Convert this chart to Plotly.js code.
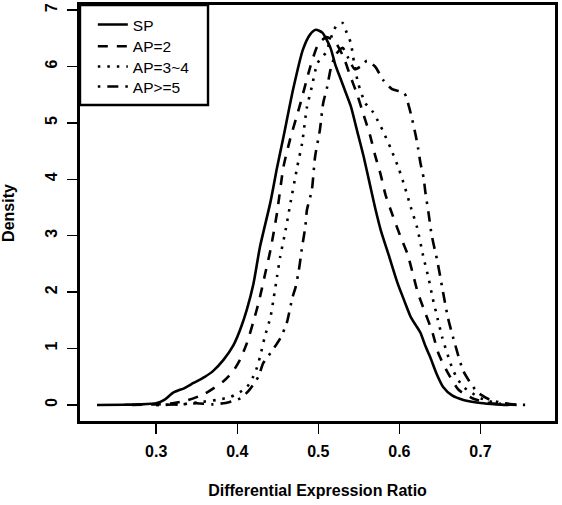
<!DOCTYPE html>
<html>
<head>
<meta charset="utf-8">
<script src="https://cdn.plot.ly/plotly-3.0.1.min.js"></script>
<style>html,body{margin:0;padding:0;background:#fff;}#chart{width:562px;height:505px;}</style>
</head>
<body>
<div id="chart"></div>
<script>
// ---- data ----
const seriesNames = ["SP", "AP=2", "AP=3~4", "AP>=5"];

const spX = [0.227,0.26,0.28,0.30,0.31,0.321,0.335,0.346,0.36,0.37,0.383,0.395,0.404,0.412,0.42,0.428,0.441,0.449,0.457,0.469,0.481,0.490,0.497,0.505,0.515,0.521,0.527,0.533,0.540,0.548,0.556,0.563,0.570,0.577,0.587,0.598,0.606,0.614,0.620,0.626,0.632,0.638,0.646,0.654,0.665,0.679,0.70,0.72,0.735];
const spY = [0,0.005,0.01,0.03,0.09,0.22,0.30,0.39,0.50,0.60,0.80,1.05,1.35,1.70,2.15,2.80,3.60,4.20,4.75,5.60,6.30,6.57,6.65,6.60,6.33,6.03,5.80,5.57,5.30,4.85,4.40,3.95,3.50,3.10,2.65,2.15,1.85,1.56,1.42,1.28,1.05,0.85,0.55,0.32,0.17,0.09,0.035,0.01,0];

const ap2X = [0.27,0.30,0.32,0.338,0.36,0.383,0.395,0.404,0.412,0.420,0.427,0.434,0.441,0.449,0.457,0.465,0.478,0.490,0.500,0.510,0.520,0.531,0.539,0.548,0.556,0.564,0.570,0.577,0.583,0.592,0.601,0.610,0.616,0.623,0.632,0.641,0.648,0.659,0.673,0.690,0.705,0.720,0.745];
const ap2Y = [0,0.01,0.03,0.08,0.20,0.42,0.60,0.82,1.10,1.48,1.85,2.30,2.75,3.40,4.22,4.70,5.35,5.99,6.40,6.52,6.45,6.17,5.85,5.50,5.14,4.77,4.43,4.08,3.72,3.35,3.00,2.68,2.36,1.98,1.63,1.28,0.92,0.59,0.27,0.12,0.05,0.02,0];

const ap34X = [0.30,0.33,0.354,0.375,0.391,0.40,0.412,0.422,0.428,0.434,0.441,0.445,0.449,0.453,0.459,0.465,0.474,0.480,0.486,0.492,0.499,0.509,0.517,0.523,0.530,0.535,0.540,0.544,0.549,0.558,0.567,0.573,0.579,0.589,0.599,0.607,0.614,0.622,0.630,0.636,0.641,0.647,0.653,0.661,0.665,0.671,0.679,0.690,0.697,0.710,0.725,0.740];
const ap34Y = [0,0.01,0.05,0.09,0.14,0.20,0.32,0.57,0.85,1.21,1.56,1.90,2.27,2.63,3.05,3.53,4.22,4.64,5.28,5.64,6.06,6.24,6.56,6.74,6.77,6.60,6.42,6.08,5.71,5.35,5.20,5.05,4.88,4.56,4.20,3.85,3.51,3.14,2.60,2.25,1.90,1.54,1.19,0.83,0.66,0.48,0.32,0.21,0.14,0.07,0.02,0];

const ap5X = [0.30,0.33,0.35,0.37,0.39,0.404,0.414,0.426,0.432,0.443,0.453,0.461,0.468,0.472,0.476,0.480,0.484,0.486,0.492,0.496,0.502,0.506,0.511,0.515,0.521,0.530,0.537,0.545,0.552,0.560,0.570,0.580,0.591,0.606,0.612,0.616,0.620,0.623,0.626,0.630,0.632,0.636,0.640,0.647,0.653,0.660,0.669,0.679,0.696,0.712,0.728,0.746,0.762];
const ap5Y = [0,0.01,0.03,0.01,0.05,0.12,0.25,0.50,0.74,0.96,1.18,1.45,1.90,2.09,2.39,2.80,3.16,3.46,3.81,4.40,4.88,5.35,5.64,5.94,6.20,6.33,6.15,5.95,6.00,6.10,6.00,5.76,5.60,5.53,5.28,5.05,4.79,4.56,4.29,4.02,3.78,3.40,3.00,2.54,2.07,1.54,1.06,0.60,0.23,0.09,0.035,0.005,0];

const xTicks = [0.3, 0.4, 0.5, 0.6, 0.7];
const xTickText = ["0.3", "0.4", "0.5", "0.6", "0.7"];
const yTicks = [0, 1, 2, 3, 4, 5, 6, 7];
const yTickText = ["0", "1", "2", "3", "4", "5", "6", "7"];
const xTitle = "Differential Expression Ratio";
const yTitle = "Density";

// ---- styling ----
const FONT = "Liberation Sans, Arial, sans-serif";
const LW = 2.6;
const dashes = ["solid", "10px,9px", "2.5px,7px", "2.5px,7px,11px,7px"];
const xs = [spX, ap2X, ap34X, ap5X];
const ys = [spY, ap2Y, ap34Y, ap5Y];
const legendIds = ["legend", "legend2", "legend3", "legend4"];
const legendY = [0.952, 0.900, 0.851, 0.803];

const traces = seriesNames.map((n, i) => ({
  type: "scatter", mode: "lines", name: n,
  x: xs[i], y: ys[i],
  line: {color: "#000", width: LW, dash: dashes[i], shape: "spline", smoothing: 0.6},
  showlegend: true, legend: legendIds[i]
}));

const layout = {
  width: 562, height: 505,
  margin: {l: 80, r: 7, t: 5, b: 84},
  paper_bgcolor: "#fff", plot_bgcolor: "#fff",
  font: {family: FONT, color: "#000"},
  showlegend: true,
  xaxis: {
    range: [0.206, 0.792], tickvals: xTicks, ticktext: xTickText,
    ticks: "outside", ticklen: 10, tickwidth: 1.5, tickcolor: "#000",
    showline: true, linewidth: 2.6, linecolor: "#000", mirror: true,
    showgrid: false, zeroline: false,
    tickfont: {family: FONT, size: 16, weight: "bold"},
    ticklabelstandoff: 4,
    title: {text: xTitle, font: {family: FONT, size: 16, weight: "bold"}, standoff: 26}
  },
  yaxis: {
    range: [-0.284, 7.09], tickvals: yTicks, ticktext: yTickText, tickangle: -90,
    ticks: "outside", ticklen: 10, tickwidth: 1.5, tickcolor: "#000",
    showline: true, linewidth: 2.6, linecolor: "#000", mirror: true,
    showgrid: false, zeroline: false,
    tickfont: {family: FONT, size: 16, weight: "bold"},
    ticklabelstandoff: 4,
    title: {text: yTitle, font: {family: FONT, size: 16, weight: "bold"}, standoff: 26}
  },
  shapes: [{
    type: "rect", xref: "paper", yref: "paper",
    x0: 0, x1: 0.2695, y0: 0.7596, y1: 1,
    line: {color: "#000", width: 2.4}, fillcolor: "rgba(0,0,0,0)"
  }]
};
legendIds.forEach((id, i) => {
  layout[id] = {
    x: 0.027, y: legendY[i], xanchor: "left", yanchor: "middle",
    bgcolor: "rgba(0,0,0,0)", borderwidth: 0,
    font: {family: FONT, size: 15.5, color: "#000"},
    itemwidth: 30
  };
});

Plotly.newPlot("chart", traces, layout, {displayModeBar: false, staticPlot: true});
</script>
</body>
</html>
